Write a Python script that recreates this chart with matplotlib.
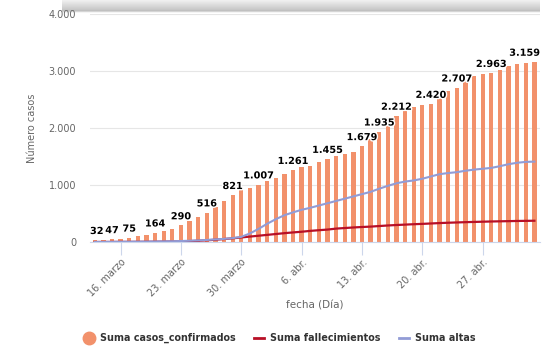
import numpy as np
import matplotlib
matplotlib.use('Agg')
import matplotlib.pyplot as plt
import matplotlib.dates as mdates
import matplotlib.patheffects as pe
from matplotlib.lines import Line2D

# daily values from 13 March to 3 May
start = '2020-03-13'
confirmados = [32, 40, 47, 60, 75, 100, 130, 164, 200, 235, 290, 360, 435, 516,
               620, 720, 821, 910, 950, 1007, 1070, 1125, 1195, 1261, 1315, 1335,
               1400, 1455, 1505, 1545, 1575, 1679, 1810, 1935, 2045, 2212, 2300,
               2370, 2410, 2420, 2530, 2650, 2707, 2820, 2920, 2945, 2963, 3010,
               3080, 3115, 3140, 3159]
fallecimientos = [0, 1, 1, 2, 2, 3, 4, 5, 7, 9, 12, 16, 22, 30, 40, 52, 65, 80,
                  95, 110, 125, 140, 155, 168, 180, 195, 207, 218, 235, 245, 255,
                  263, 270, 280, 290, 298, 305, 312, 318, 325, 332, 338, 343, 348,
                  352, 356, 360, 363, 366, 369, 371, 373]
altas = [0, 1, 2, 3, 4, 5, 6, 8, 10, 13, 17, 22, 28, 36, 45, 55, 68, 90, 150,
         230, 320, 400, 470, 520, 565, 600, 640, 680, 720, 760, 800, 840, 880,
         935, 985, 1030, 1060, 1080, 1110, 1150, 1190, 1210, 1225, 1250, 1270,
         1285, 1300, 1330, 1365, 1390, 1405, 1410]
# points that carry a data label
labelled = ['2020-03-13', '2020-03-15', '2020-03-17', '2020-03-20', '2020-03-23',
            '2020-03-26', '2020-03-29', '2020-04-01', '2020-04-05', '2020-04-09',
            '2020-04-13', '2020-04-15', '2020-04-17', '2020-04-21', '2020-04-24',
            '2020-04-28', '2020-05-03']
tick_dates = ['2020-03-16', '2020-03-23', '2020-03-30', '2020-04-06',
              '2020-04-13', '2020-04-20', '2020-04-27']
tick_labels = ['16. marzo', '23. marzo', '30. marzo', '6. abr.', '13. abr.',
               '20. abr.', '27. abr.']

c_bar = '#f2916b'
c_red = '#b80f26'
c_blue = '#929cd6'
grey = '#666666'

dates = np.arange(np.datetime64(start), np.datetime64(start) + len(confirmados))
x = mdates.date2num(dates)

fig = plt.figure(figsize=(5.46, 3.6), dpi=100)
ax = fig.add_axes([90 / 546, 118 / 360, 450 / 546, 228 / 360])

ax.bar(x, confirmados, width=0.5, color=c_bar, zorder=2)
ax.plot(x, fallecimientos, color=c_red, lw=1.6, zorder=3)
ax.plot(x, altas, color=c_blue, lw=1.5, zorder=3)

ax.set_xlim(x[0] - 0.55, x[-1] + 0.65)
ax.set_ylim(0, 4000)
ax.set_yticks([0, 1000, 2000, 3000, 4000])
ax.set_yticklabels(['0', '1.000', '2.000', '3.000', '4.000'])
ax.grid(axis='y', color='#e6e6e6', lw=0.8, zorder=0)
for s in ['top', 'right', 'left']:
    ax.spines[s].set_visible(False)
ax.spines['bottom'].set_color('#ccd6eb')

ax.set_xticks(mdates.date2num(np.array(tick_dates, dtype='datetime64[D]')))
ax.set_xticklabels(tick_labels, rotation=45, ha='right', va='top',
                   rotation_mode='anchor')
ax.tick_params(axis='x', length=9, color='#ccd6eb', labelsize=7,
               labelcolor=grey, pad=2)
ax.tick_params(axis='y', length=0, labelsize=7, labelcolor=grey, pad=10)
ax.set_ylabel('Número casos', fontsize=7, color=grey, labelpad=8)
ax.set_xlabel('fecha (Día)', fontsize=7.5, color=grey, labelpad=1.5)

lab = set(np.array(labelled, dtype='datetime64[D]'))
for i, (d, xi, v) in enumerate(zip(dates, x, confirmados)):
    if d not in lab:
        continue
    txt = f'{v:,}'.replace(',', '.')
    ha, xp = 'center', xi
    if i == 0:
        ha, xp = 'left', ax.get_xlim()[0]
    elif i == len(x) - 1:
        ha, xp = 'right', ax.get_xlim()[1]
    ax.annotate(txt, (xp, v), xytext=(0, 3), textcoords='offset points',
                ha=ha, va='bottom', fontsize=7, fontweight='bold',
                color='black', zorder=5,
                path_effects=[pe.withStroke(linewidth=2, foreground='white')])

handles = [Line2D([], [], marker='o', ls='none', color=c_bar, markersize=9),
           Line2D([], [], color=c_red, lw=2),
           Line2D([], [], color=c_blue, lw=2)]
fig.legend(handles, ['Suma casos_confirmados', 'Suma fallecimientos', 'Suma altas'],
           loc='center', bbox_to_anchor=(280 / 546, 1 - 338 / 360), ncol=3,
           frameon=False, prop={'size': 6.9, 'weight': 'bold'},
           labelcolor='#333333', handlelength=1.0, handletextpad=0.65,
           columnspacing=1.9)

# grey shadow strip at the top of the card
sh = fig.add_axes([62 / 546, 1 - 13 / 360, 478 / 546, 13 / 360])
grad = np.linspace(0.1, 0.5, 30)
grad[-6:] = np.linspace(0.5, 0.0, 6)
rgba = np.zeros((30, 1, 4))
rgba[..., :3] = 0.45
rgba[..., 3] = grad[:, None]
sh.imshow(rgba, aspect='auto', extent=[0, 1, 0, 1])
sh.axis('off')

fig.savefig('out.png', dpi=100)
